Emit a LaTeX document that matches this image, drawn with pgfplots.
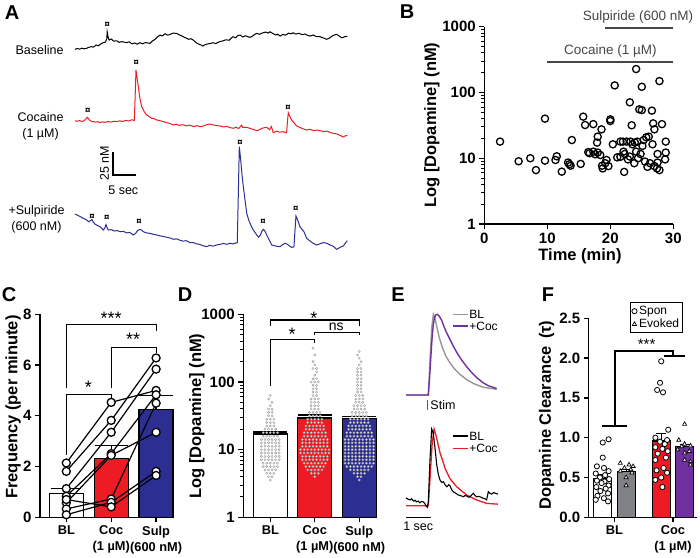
\documentclass[border=0pt]{standalone}
\usepackage{fontspec}
\setmainfont{Liberation Sans}
\usepackage{pgfplots}
\pgfplotsset{compat=1.18}
\definecolor{cred}{RGB}{237,28,36}
\definecolor{cblue}{RGB}{44,46,146}
\definecolor{cpurple}{RGB}{112,48,160}
\definecolor{cgray}{RGB}{128,130,133}
\definecolor{tgray}{RGB}{150,150,150}
\definecolor{dgray}{RGB}{70,70,70}
\newcommand{\fs}[1]{\fontsize{#1}{#1}\selectfont}
\pgfplotsset{
  gp/.style={scale only axis, clip=false, axis x line*=bottom, axis y line*=left,
    axis line style={line width=1.5pt,-}, tick align=outside,
    major tick length=5pt, minor tick length=3pt,
    tick style={black, line width=1.3pt}, minor tick style={line width=1pt},
    yticklabel style={font=\fontsize{15}{16}\selectfont\bfseries},
    xticklabel style={font=\fontsize{12.8}{16}\selectfont\bfseries, align=center},
    /pgf/number format/assume math mode=true},
  bar/.style={ybar, bar shift=0pt, draw=black, line width=1.4pt, forget plot},
  sem/.style={black, line width=1.4pt, forget plot},
  brk/.style={black, line width=1.2pt, forget plot},
  sw/.style={only marks, mark=*, mark size=1.1pt, mark options={draw=gray!80, fill=white, line width=0.4pt}, forget plot},
}
\begin{document}
\begin{tikzpicture}
\useasboundingbox (0,0) rectangle (700pt,557pt);
% ---------------- Panel A ----------------
\begin{axis}[at={(75pt,297pt)}, anchor=south west, scale only axis, width=272.3pt, height=240pt,
  xmin=0, xmax=59.2, ymin=0, ymax=260.9, axis lines=none, clip=false]
\addplot[black, line width=1pt] table[x=t, y expr=\thisrow{v}+230.4] {
t v
0 -1.4
0.5 -0.5
1.0 -1.2
1.5 -0.2
2.0 -0.8
2.5 -0.3
3.0 0.8
3.5 1.5
4.0 1.0
4.6 3.3
5.1 2.5
5.6 4.5
6.1 5.8
6.6 6.5
6.9 10
7.0 17.7
7.2 12
7.4 8.7
7.9 9.8
8.4 7.5
9.1 7.9
9.6 6.2
10.2 7.0
11.2 5.8
11.8 6.8
12.4 4.5
13.0 5.5
13.5 4.2
14.1 5.8
14.7 4.6
15.3 6.0
16.3 5.1
16.8 7.5
17.4 9.5
17.9 12.0
18.5 14.1
19.0 13.2
19.6 15.5
20.2 14.0
20.7 14.9
21.3 16.2
22.1 16.0
22.6 14.5
23.1 13.5
23.5 12.3
24.1 11.0
24.7 9.5
25.2 10.2
25.7 8.7
26.3 6.0
26.8 4.5
27.3 3.5
27.8 2.2
28.3 3.8
28.9 4.5
29.4 5.0
30.0 5.8
30.6 4.8
31.2 6.5
32.2 7.9
32.8 9.0
33.5 8.5
34.3 12.3
34.9 11.2
35.4 13.5
35.9 14.1
36.5 12.0
37.0 13.4
38.0 11.6
38.6 13.0
39.0 14.6
39.5 16.0
40.1 15.0
40.8 16.5
41.4 17.4
42.0 16.3
42.4 17.7
43.0 15.8
43.6 14.2
44.1 15.0
44.6 13.0
45.2 14.8
45.8 14.0
46.4 16.2
47.0 15.5
47.4 16.6
48.0 15.2
48.7 16.0
49.4 14.5
50.0 15.3
50.4 14.1
51.1 13.0
51.8 14.2
52.5 12.5
53.3 12.3
54.0 11.0
54.7 9.5
55.3 10.8
55.9 13.0
56.4 14.2
56.9 14.9
57.5 12.8
58.0 11.2
58.3 11.6
58.8 12.8
59.2 12.3
};
\addplot[cred, line width=1pt] table[x=t, y expr=\thisrow{v}+151.1] {
t v
0 0.3
0.5 -0.3
1.0 0.5
1.46 -0.7
2.0 0.5
2.4 2.5
2.67 4.0
3.0 2.2
3.26 0.3
3.8 -0.5
4.4 -1.2
5.0 -0.8
5.43 -1.8
6.0 -1.0
6.6 -1.5
7.2 -0.5
7.8 -1.2
8.5 -0.2
9.07 -0.7
9.7 0.2
10.4 -0.5
11.0 0.6
11.7 0.0
12.3 1.2
12.67 1.0
12.9 0.6
13.1 30
13.26 55.4
13.5 47
13.76 37.3
14.1 25
14.5 15.5
15.0 10.5
15.59 6.5
16.1 5.0
16.6 3.0
17.2 2.5
17.76 1.1
18.4 0.5
19.2 -0.7
19.8 -1.5
20.5 -2.5
21.37 -4.3
22.0 -3.5
22.7 -4.8
23.4 -4.0
24.28 -5.4
25.0 -4.5
25.8 -6.2
26.5 -5.0
27.17 -6.2
27.9 -5.5
28.6 -4.0
29.35 -3.3
30.0 -4.2
30.8 -5.0
31.52 -5.4
32.3 -6.5
33.0 -5.8
33.7 -7.2
34.41 -7.9
35.0 -6.8
35.6 -8.2
36.2 -4.5
36.5 -7.0
37.33 -6.9
38.0 -8.0
38.7 -9.0
39.5 -10.5
40.2 -9.2
40.9 -7.5
41.67 -6.9
42.3 -9.5
42.7 -6.0
43.1 -12.7
43.8 -11.0
44.5 -12.2
45.28 -11.6
45.8 -12.5
46.0 -12.7
46.2 0
46.37 9.0
46.7 5.0
47.1 1.1
47.6 -2.0
48.2 -5.4
48.9 -7.0
49.6 -8.5
50.37 -9.8
51.1 -9.0
51.9 -10.5
52.6 -9.8
53.26 -10.5
54.0 -11.5
54.8 -11.0
55.5 -12.5
56.15 -13.4
56.9 -14.0
57.6 -15.5
58.33 -17.4
58.8 -16.0
59.2 -15.6
};
\addplot[cblue, line width=1pt] table[x=t, y expr=\thisrow{v}+50] {
t v
0 0
0.6 -1.5
1.2 -3.0
1.8 -4.7
2.4 -6.0
3.0 -8.5
3.4 -7.0
3.7 -6.0
4.0 -9.0
4.35 -11.0
4.9 -12.5
5.5 -14.0
6.15 -17.4
6.5 -15.0
6.74 -11.5
7.0 -15.0
7.24 -17.4
7.9 -17.0
8.6 -18.5
9.2 -18.0
9.78 -19.2
10.5 -18.8
11.2 -20.5
11.9 -20.0
12.67 -22.8
13.2 -21.0
13.6 -18.0
14.13 -16.7
14.5 -17.5
14.85 -19.2
15.5 -20.5
16.2 -21.0
17.0 -22.0
17.76 -22.8
18.5 -23.8
19.3 -24.5
20.1 -25.5
20.8 -26.2
21.37 -27.5
22.1 -27.0
22.8 -28.5
23.5 -29.5
24.2 -29.0
25.0 -31.2
25.7 -31.0
26.4 -32.5
27.1 -33.0
27.8 -34.5
28.63 -35.5
29.3 -34.0
30.0 -35.0
30.8 -33.7
31.5 -33.0
32.3 -32.0
33.0 -33.0
33.7 -31.8
34.4 -32.5
35.0 -31.5
35.28 -31.2
35.5 20
35.72 73.2
36.0 60
36.3 43
36.59 29.7
36.9 18
37.33 0.8
37.8 -7
38.3 -13
38.76 -17.4
39.4 -22
39.9 -25.3
40.3 -23
40.6 -19
40.93 -16.7
41.3 -18.5
41.67 -22.8
42.2 -28
42.76 -33.7
43.4 -34.5
44.0 -35.2
44.57 -35.5
45.1 -33.5
45.65 -31.8
46.2 -33.0
46.7 -35.0
47.1 -36.2
47.6 -35.8
47.8 -20
48.04 -2.2
48.4 -6.5
48.9 -13.8
49.4 -17.0
49.8 -19.5
50.37 -26.4
51.0 -29.0
51.7 -31.5
52.54 -33.7
53.2 -32.5
54.0 -31.0
54.72 -31.8
55.4 -33.5
56.1 -35.0
56.89 -38.4
57.4 -37.0
57.9 -35.5
58.33 -34.8
58.8 -31.5
59.2 -29.0
};
\addplot[only marks, mark=text, text mark={\fs{9.5}\bfseries ¤}] coordinates {
(7.0,255.4) (2.8,162) (13.3,214.1) (46.3,165.2)
(3.7,46.7) (6.9,45.7) (13.9,41.3) (35.9,128) (40.9,41.3) (48,55.4)};
% scale bar
\addplot[black, line width=1.3pt] coordinates {(8.26,117.4) (8.26,92.4) (13.26,92.4)};
\end{axis}
\node[anchor=east, font=\fs{12.5}] at (67pt,507pt) {Baseline};
\node[anchor=east, align=center, font=\fontsize{12.5}{16}\selectfont] at (67pt,431pt) {Cocaine\\(1 µM)};
\node[anchor=east, align=center, font=\fontsize{12.5}{16}\selectfont] at (68pt,337.5pt) {+Sulpiride\\(600 nM)};
\node[rotate=90, font=\fs{12.5}] at (104.5pt,393.7pt) {25 nM};
\node[font=\fs{12.5}] at (123.3pt,367pt) {5 sec};
% ---------------- Panel B ----------------
\begin{axis}[gp, at={(484.3pt,333pt)}, anchor=south west, width=189pt, height=197.3pt,
  xmin=0, xmax=30, ymode=log, ymin=1, ymax=1000,
  xticklabel style={font=\fontsize{15}{16}\selectfont\bfseries},
  xtick={0,10,20,30}, ytick={1,10,100,1000}, yticklabels={1,10,100,1000}]
\addplot[dgray, line width=1.5pt] coordinates {(10,290) (30,290)};
\addplot[dgray, line width=1.5pt] coordinates {(19.2,960) (30,960)};
\node[font=\fs{13.5}, text=dgray, anchor=south] at (axis cs:20,300) {Cocaine (1 µM)};
\node[font=\fs{13.5}, text=dgray, anchor=south] at (axis cs:24.4,1000) {Sulpiride (600 nM)};
\addplot[only marks, mark=o, mark size=3.6pt, line width=1.3pt, black] coordinates {
(2.5,17.9) (5.45,9.0) (7.3,10) (8.2,6.6) (9.63,40) (9.63,9.2) (11.5,10.7) (11.3,9.4)
(12.3,6.25) (13.9,18.9) (13.3,8.6) (13.5,8.1) (13.7,7.7) (15.3,8.2) (15.7,42.9) (16.0,32)
(16.5,12.4) (16.7,11.9) (17.3,33) (17.3,12.6) (17.6,11.5) (17.9,17.3) (18.0,21.3) (18.0,12.2)
(18.4,11.2) (18.6,27.5) (18.7,7.7) (18.8,7.0) (19.2,8.4) (19.4,9.4) (19.7,7.6) (20.0,39)
(20.0,36.8) (20.4,16.3) (20.7,128) (21.1,10.3) (21.6,10.5) (21.6,17.9) (22.0,17.9) (22.1,12.6)
(22.2,6.2) (22.3,11.6) (22.6,17.9) (22.8,9.6) (23.1,70.8) (23.1,10.6) (23.2,17.9) (23.4,31.7)
(23.5,16.3) (23.8,8.4) (23.9,17.3) (24.1,227) (24.1,12.6) (24.3,17.9) (24.4,10) (24.6,55.4)
(24.8,11.6) (25.0,122) (25.0,54) (25.1,15.4) (25.3,18.9) (25.5,8.9) (25.7,20.8) (25.9,7.4)
(26.1,21.3) (26.3,8.4) (26.6,52.9) (26.7,16.3) (26.8,33.9) (27.0,27.5) (27.0,7.6) (27.4,7.0)
(27.5,8.6) (27.5,11.6) (27.8,149) (27.8,6.6) (28.2,33) (28.7,9.6) (28.8,12.2) (28.8,17.9)};
\end{axis}
\node[rotate=90, font=\fs{16.5}\bfseries] at (432pt,432pt) {Log [Dopamine] (nM)};
\node[font=\fs{16.5}\bfseries] at (580pt,301pt) {Time (min)};
% ---------------- Panel C ----------------
\begin{axis}[gp, at={(40pt,39.7pt)}, anchor=south west, width=133.3pt, height=203pt,
  xmin=-0.586, xmax=2.383, ymin=0, ymax=8, ytick={0,2,4,6,8},
  xtick={0,1,2}, xticklabels={BL,{Coc\\(1 µM)},{Sulp\\(600 nM)}}]
\addplot[bar, bar width=34pt, fill=white] coordinates {(0,0.93)};
\addplot[bar, bar width=34pt, fill=cred] coordinates {(1,2.31)};
\addplot[bar, bar width=34pt, fill=cblue] coordinates {(2,4.24)};
\addplot[sem] coordinates {(-0.33,1.13) (0.33,1.13)};
\addplot[sem] coordinates {(0.63,2.82) (1.37,2.82)};
\addplot[sem] coordinates {(1.63,4.8) (2.37,4.8)};
\addplot[sem] coordinates {(0,0.93) (0,1.13)};
\addplot[sem] coordinates {(1,2.31) (1,2.82)};
\addplot[sem] coordinates {(2,4.24) (2,4.8)};
\addplot[black, line width=1.2pt, mark=*, mark size=4pt, mark options={fill=white, line width=1.3pt}] coordinates {(0,2.14) (1,4.53) (2,5.0)};
\addplot[black, line width=1.2pt, mark=*, mark size=4pt, mark options={fill=white, line width=1.3pt}] coordinates {(0,1.81) (1,3.82) (2,6.28)};
\addplot[black, line width=1.2pt, mark=*, mark size=4pt, mark options={fill=white, line width=1.3pt}] coordinates {(0,1.13) (1,3.35) (2,5.84)};
\addplot[black, line width=1.2pt, mark=*, mark size=4pt, mark options={fill=white, line width=1.3pt}] coordinates {(0,0.83) (1,2.51) (2,4.83)};
\addplot[black, line width=1.2pt, mark=*, mark size=4pt, mark options={fill=white, line width=1.3pt}] coordinates {(0,0.57) (1,2.44) (2,3.35)};
\addplot[black, line width=1.2pt, mark=*, mark size=4pt, mark options={fill=white, line width=1.3pt}] coordinates {(0,0.33) (1,0.72) (2,4.5)};
\addplot[black, line width=1.2pt, mark=*, mark size=4pt, mark options={fill=white, line width=1.3pt}] coordinates {(0,0.10) (1,0.59) (2,1.81)};
\addplot[black, line width=1.2pt, mark=*, mark size=4pt, mark options={fill=white, line width=1.3pt}] coordinates {(0,0.70) (1,0.41) (2,1.65)};
\addplot[brk] coordinates {(0,5.09) (0,7.61) (2,7.61) (2,7.36)};
\addplot[brk] coordinates {(1,5.09) (1,6.69) (2,6.69) (2,6.47)};
\addplot[brk] coordinates {(0,2.47) (0,4.83) (1,4.83) (1,4.66)};
\node[font=\fs{18}] at (axis cs:1,7.85) {***};
\node[font=\fs{18}] at (axis cs:1.49,7.02) {**};
\node[font=\fs{18}] at (axis cs:0.49,5.11) {*};
\end{axis}
\node[rotate=90, font=\fs{16.5}\bfseries] at (13pt,150pt) {Frequency (per minute)};
% ---------------- Panel D ----------------
\begin{axis}[gp, at={(243.3pt,39.7pt)}, anchor=south west, width=133.2pt, height=203pt,
  xmin=-0.607, xmax=2.387, ymode=log, ymin=1, ymax=1000,
  ytick={1,10,100,1000}, yticklabels={1,10,100,1000},
  xtick={0,1,2}, xticklabels={BL,{Coc\\(1 µM)},{Sulp\\(600 nM)}}]
\addplot[bar, bar width=34pt, fill=white] coordinates {(0,17)};
\addplot[bar, bar width=34pt, fill=cred] coordinates {(1,29.3)};
\addplot[bar, bar width=34pt, fill=cblue] coordinates {(2,29)};
\addplot[sw] coordinates {
(0,3.55)
(-.04,3.98)(.04,3.98)
(-.08,4.47)(0,4.47)(.08,4.47)
(-.12,5.01)(-.04,5.01)(.04,5.01)(.12,5.01)
(-.16,5.62)(-.08,5.62)(0,5.62)(.08,5.62)(.16,5.62)
(-.16,6.31)(-.08,6.31)(0,6.31)(.08,6.31)(.16,6.31)
(-.2,7.08)(-.12,7.08)(-.04,7.08)(.04,7.08)(.12,7.08)(.2,7.08)
(-.2,7.94)(-.12,7.94)(-.04,7.94)(.04,7.94)(.12,7.94)(.2,7.94)
(-.2,8.91)(-.12,8.91)(-.04,8.91)(.04,8.91)(.12,8.91)(.2,8.91)
(-.2,10)(-.12,10)(-.04,10)(.04,10)(.12,10)(.2,10)
(-.2,11.2)(-.12,11.2)(-.04,11.2)(.04,11.2)(.12,11.2)(.2,11.2)
(-.2,12.6)(-.12,12.6)(-.04,12.6)(.04,12.6)(.12,12.6)(.2,12.6)
(-.2,14.1)(-.12,14.1)(-.04,14.1)(.04,14.1)(.12,14.1)(.2,14.1)
(-.16,15.8)(-.08,15.8)(0,15.8)(.08,15.8)(.16,15.8)
(-.16,17.8)(-.08,17.8)(0,17.8)(.08,17.8)(.16,17.8)
(-.12,20)(-.04,20)(.04,20)(.12,20)
(-.08,22.4)(0,22.4)(.08,22.4)
(-.08,25.1)(0,25.1)(.08,25.1)
(-.08,28.2)(0,28.2)(.08,28.2)
(-.04,31.6)(.04,31.6)
(-.04,35.5)(.04,35.5)
(-.04,39.8)(.04,39.8)
(0,44.7) (.04,50.1) (-.04,56.2) (0,63.1)
};
\addplot[sw] coordinates {
(1,3.98)
(.92,4.47)(1,4.47)(1.08,4.47)
(.84,5.01)(.92,5.01)(1,5.01)(1.08,5.01)(1.16,5.01)
(.8,5.62)(.88,5.62)(.96,5.62)(1.04,5.62)(1.12,5.62)(1.2,5.62)
(.76,6.31)(.84,6.31)(.92,6.31)(1,6.31)(1.08,6.31)(1.16,6.31)(1.24,6.31)
(.72,7.08)(.8,7.08)(.88,7.08)(.96,7.08)(1.04,7.08)(1.12,7.08)(1.2,7.08)(1.28,7.08)
(.72,7.94)(.8,7.94)(.88,7.94)(.96,7.94)(1.04,7.94)(1.12,7.94)(1.2,7.94)(1.28,7.94)
(.68,8.91)(.76,8.91)(.84,8.91)(.92,8.91)(1,8.91)(1.08,8.91)(1.16,8.91)(1.24,8.91)(1.32,8.91)
(.68,10)(.76,10)(.84,10)(.92,10)(1,10)(1.08,10)(1.16,10)(1.24,10)(1.32,10)
(.72,11.2)(.8,11.2)(.88,11.2)(.96,11.2)(1.04,11.2)(1.12,11.2)(1.2,11.2)(1.28,11.2)
(.72,12.6)(.8,12.6)(.88,12.6)(.96,12.6)(1.04,12.6)(1.12,12.6)(1.2,12.6)(1.28,12.6)
(.72,14.1)(.8,14.1)(.88,14.1)(.96,14.1)(1.04,14.1)(1.12,14.1)(1.2,14.1)(1.28,14.1)
(.76,15.8)(.84,15.8)(.92,15.8)(1,15.8)(1.08,15.8)(1.16,15.8)(1.24,15.8)
(.76,17.8)(.84,17.8)(.92,17.8)(1,17.8)(1.08,17.8)(1.16,17.8)(1.24,17.8)
(.8,20)(.88,20)(.96,20)(1.04,20)(1.12,20)(1.2,20)
(.8,22.4)(.88,22.4)(.96,22.4)(1.04,22.4)(1.12,22.4)(1.2,22.4)
(.84,25.1)(.92,25.1)(1,25.1)(1.08,25.1)(1.16,25.1)
(.84,28.2)(.92,28.2)(1,28.2)(1.08,28.2)(1.16,28.2)
(.88,31.6)(.96,31.6)(1.04,31.6)(1.12,31.6)
(.88,35.5)(.96,35.5)(1.04,35.5)(1.12,35.5)
(.92,39.8)(1,39.8)(1.08,39.8)
(.92,44.7)(1,44.7)(1.08,44.7)
(.92,50.1)(1,50.1)(1.08,50.1)
(.92,56.2)(1,56.2)(1.08,56.2)
(.96,63.1)(1.04,63.1)
(.96,70.8)(1.04,70.8)
(.96,79.4)(1.04,79.4)
(.96,89.1)(1.04,89.1)
(.92,100)(1,100)(1.08,100)
(.96,112)(1.04,112)
(1,126) (1.04,141)
(.96,158)(1.04,158)
(1,178) (.96,200) (1,251) (.96,316)
};
\addplot[sw] coordinates {
(2,3.55)
(1.96,3.98)(2.04,3.98)
(1.88,4.47)(1.96,4.47)(2.04,4.47)(2.12,4.47)
(1.8,5.01)(1.88,5.01)(1.96,5.01)(2.04,5.01)(2.12,5.01)(2.2,5.01)
(1.72,5.62)(1.8,5.62)(1.88,5.62)(1.96,5.62)(2.04,5.62)(2.12,5.62)(2.2,5.62)(2.28,5.62)
(1.68,6.31)(1.76,6.31)(1.84,6.31)(1.92,6.31)(2,6.31)(2.08,6.31)(2.16,6.31)(2.24,6.31)(2.32,6.31)
(1.68,7.08)(1.76,7.08)(1.84,7.08)(1.92,7.08)(2,7.08)(2.08,7.08)(2.16,7.08)(2.24,7.08)(2.32,7.08)
(1.68,7.94)(1.76,7.94)(1.84,7.94)(1.92,7.94)(2,7.94)(2.08,7.94)(2.16,7.94)(2.24,7.94)(2.32,7.94)
(1.68,8.91)(1.76,8.91)(1.84,8.91)(1.92,8.91)(2,8.91)(2.08,8.91)(2.16,8.91)(2.24,8.91)(2.32,8.91)
(1.68,10)(1.76,10)(1.84,10)(1.92,10)(2,10)(2.08,10)(2.16,10)(2.24,10)(2.32,10)
(1.68,11.2)(1.76,11.2)(1.84,11.2)(1.92,11.2)(2,11.2)(2.08,11.2)(2.16,11.2)(2.24,11.2)(2.32,11.2)
(1.68,12.6)(1.76,12.6)(1.84,12.6)(1.92,12.6)(2,12.6)(2.08,12.6)(2.16,12.6)(2.24,12.6)(2.32,12.6)
(1.68,14.1)(1.76,14.1)(1.84,14.1)(1.92,14.1)(2,14.1)(2.08,14.1)(2.16,14.1)(2.24,14.1)(2.32,14.1)
(1.72,15.8)(1.8,15.8)(1.88,15.8)(1.96,15.8)(2.04,15.8)(2.12,15.8)(2.2,15.8)(2.28,15.8)
(1.72,17.8)(1.8,17.8)(1.88,17.8)(1.96,17.8)(2.04,17.8)(2.12,17.8)(2.2,17.8)(2.28,17.8)
(1.76,20)(1.84,20)(1.92,20)(2,20)(2.08,20)(2.16,20)(2.24,20)
(1.76,22.4)(1.84,22.4)(1.92,22.4)(2,22.4)(2.08,22.4)(2.16,22.4)(2.24,22.4)
(1.8,25.1)(1.88,25.1)(1.96,25.1)(2.04,25.1)(2.12,25.1)(2.2,25.1)
(1.8,28.2)(1.88,28.2)(1.96,28.2)(2.04,28.2)(2.12,28.2)(2.2,28.2)
(1.84,31.6)(1.92,31.6)(2,31.6)(2.08,31.6)(2.16,31.6)
(1.84,35.5)(1.92,35.5)(2,35.5)(2.08,35.5)(2.16,35.5)
(1.88,39.8)(1.96,39.8)(2.04,39.8)(2.12,39.8)
(1.88,44.7)(1.96,44.7)(2.04,44.7)(2.12,44.7)
(1.92,50.1)(2,50.1)(2.08,50.1)
(1.92,56.2)(2,56.2)(2.08,56.2)
(1.92,63.1)(2,63.1)(2.08,63.1)
(1.96,70.8)(2.04,70.8)
(1.96,79.4)(2.04,79.4)
(1.96,89.1)(2.04,89.1)
(1.96,100)(2.04,100)
(1.96,112)(2.04,112)
(1.96,126)(2.04,126)
(1.96,141)(2.04,141)
(1.96,158)(2.04,158)
(2,178) (2.04,200) (2,224) (1.96,251) (2,282)
};
\addplot[sem] coordinates {(-0.38,17) (0.38,17)};
\addplot[sem] coordinates {(-0.38,18.3) (0.38,18.3)};
\addplot[sem] coordinates {(0.62,29.3) (1.38,29.3)};
\addplot[sem] coordinates {(0.62,32.4) (1.38,32.4)};
\addplot[sem] coordinates {(1.62,29) (2.38,29)};
\addplot[sem] coordinates {(1.62,30.6) (2.38,30.6)};
\addplot[brk] coordinates {(0,670) (0,821) (2,821) (2,670)};
\addplot[brk] coordinates {(0,87) (0,426) (1,426) (1,380)};
\addplot[brk] coordinates {(1,488) (1,540) (2,540) (2,488)};
\node[font=\fs{18}] at (axis cs:0.98,880) {*};
\node[font=\fs{18}] at (axis cs:0.49,505) {*};
\node[font=\fs{14}] at (axis cs:1.48,650) {ns};
\end{axis}
\node[rotate=90, font=\fs{16.5}\bfseries] at (197pt,141pt) {Log [Dopamine] (nM)};
% ---------------- Panel E ----------------
\begin{axis}[at={(406pt,162pt)}, anchor=south west, scale only axis, width=91.9pt, height=80.7pt,
  xmin=-0.93, xmax=2.9, ymin=0, ymax=1, axis lines=none, clip=false]
\addplot[tgray, line width=1.4pt] coordinates {(-0.93,0)(0,0)(0.05,0.3)(0.1,0.6)(0.15,0.85)(0.21,1.0)(0.28,0.95)(0.35,0.85)(0.45,0.72)(0.55,0.62)(0.625,0.56)(0.75,0.47)(0.9,0.4)(1.1,0.32)(1.3,0.26)(1.6,0.19)(1.9,0.14)(2.29,0.096)(2.85,0.07)};
\addplot[cpurple, line width=1.4pt] coordinates {(-0.93,0)(0,0)(0.05,0.2)(0.1,0.45)(0.15,0.68)(0.2,0.85)(0.25,0.95)(0.3,0.99)(0.375,1.0)(0.45,0.98)(0.55,0.93)(0.65,0.85)(0.75,0.78)(0.9,0.69)(1.05,0.6)(1.2,0.52)(1.4,0.43)(1.6,0.35)(1.8,0.28)(2.0,0.22)(2.29,0.15)(2.5,0.115)(2.85,0.08)};
\addplot[tgray, line width=1.3pt] coordinates {(1.04,1.0) (1.67,1.0)};
\addplot[cpurple, line width=1.3pt] coordinates {(1.04,0.855) (1.67,0.855)};
\addplot[cred, line width=1.5pt] coordinates {(-0.03,-0.062) (-0.03,-0.186)};
\node[anchor=west, font=\fs{12}, inner sep=0.3pt] at (axis cs:1.69,1.0) {BL};
\node[anchor=west, font=\fs{12}, inner sep=0.3pt] at (axis cs:1.69,0.855) {+Coc};
\node[anchor=west, font=\fs{12.5}, inner sep=0.5pt] at (axis cs:0.06,-0.124) {Stim};
\end{axis}
\begin{axis}[at={(406pt,51.3pt)}, anchor=south west, scale only axis, width=91.9pt, height=77.4pt,
  xmin=-0.93, xmax=2.9, ymin=0, ymax=1, axis lines=none, clip=false]
\addplot[cred, line width=1.3pt] coordinates {(-0.93,0)(0,0)(0.08,0.4)(0.16,0.8)(0.24,0.99)(0.3,0.93)(0.35,0.87)(0.49,0.68)(0.6,0.58)(0.7,0.48)(0.9,0.35)(1.18,0.245)(1.6,0.138)(2.01,0.074)(2.43,0.03)(2.9,0.02)};
\addplot[black, line width=1.1pt] coordinates {(-0.93,0.1)(-0.85,0.085)(-0.76,0.075)(-0.7,0.09)(-0.62,0.06)(-0.55,0.07)(-0.49,0.05)(-0.42,0.06)(-0.35,0.039)(-0.28,0.055)(-0.21,0.05)(-0.15,0.03)(-0.1,0.0)(-0.04,-0.02)(0,0.05)(0.07,0.6)(0.14,0.99)(0.2,0.95)(0.28,0.74)(0.35,0.53)(0.42,0.4)(0.49,0.33)(0.56,0.3)(0.63,0.31)(0.7,0.27)(0.77,0.245)(0.85,0.27)(0.9,0.26)(0.97,0.21)(1.04,0.18)(1.15,0.16)(1.25,0.138)(1.35,0.13)(1.46,0.116)(1.53,0.13)(1.6,0.125)(1.67,0.11)(1.74,0.116)(1.81,0.14)(1.88,0.16)(1.95,0.13)(2.01,0.116)(2.1,0.12)(2.2,0.11)(2.29,0.096)(2.36,0.09)(2.43,0.075)(2.5,0.18)(2.57,0.16)(2.64,0.15)(2.72,0.17)(2.8,0.16)(2.9,0.15)};
\addplot[black, line width=1.3pt] coordinates {(1.04,0.9) (1.67,0.9)};
\addplot[cred, line width=1.3pt] coordinates {(1.04,0.74) (1.67,0.74)};
\addplot[black, line width=1.3pt] coordinates {(-0.93,-0.15) (0.1,-0.15)};
\node[anchor=west, font=\fs{12}, inner sep=0.3pt] at (axis cs:1.69,0.9) {BL};
\node[anchor=west, font=\fs{12}, inner sep=0.3pt] at (axis cs:1.69,0.74) {+Coc};
\node[font=\fs{12.5}] at (axis cs:-0.42,-0.27) {1 sec};
\end{axis}
% ---------------- Panel F ----------------
\begin{axis}[gp, at={(588.7pt,39.7pt)}, anchor=south west, width=108.2pt, height=199pt,
  xmin=-0.44, xmax=1.41, ymin=0, ymax=2.5, ytick={0,0.5,1,1.5,2,2.5},
  yticklabel style={/pgf/number format/.cd, fixed, fixed zerofill, precision=1},
  xtick={0,1}, xticklabels={BL,{Coc\\(1 µM)}},
  legend style={at={(0.382,1.08)}, anchor=north west, draw=black, line width=0.7pt,
    font=\fs{12}, inner sep=1.5pt, row sep=-1pt, legend cell align=left},
  legend image code/.code={\draw[#1, mark repeat=1] plot coordinates {(0.1cm,0cm)};}]
\addplot[bar, bar width=18pt, fill=white, line width=1.2pt] coordinates {(-0.2,0.49)};
\addplot[bar, bar width=18pt, fill=cgray, line width=1.2pt] coordinates {(0.2,0.573)};
\addplot[bar, bar width=18pt, fill=cred, line width=1.2pt] coordinates {(0.8,0.958)};
\addplot[bar, bar width=18pt, fill=cpurple, line width=1.2pt] coordinates {(1.2,0.887)};
\addplot[sem, line width=1.1pt] coordinates {(-0.2,0.49) (-0.2,0.535)};
\addplot[sem, line width=1.1pt] coordinates {(-0.285,0.535) (-0.115,0.535)};
\addplot[sem, line width=1.1pt] coordinates {(0.2,0.573) (0.2,0.6)};
\addplot[sem, line width=1.1pt] coordinates {(0.115,0.6) (0.285,0.6)};
\addplot[sem, line width=1.1pt] coordinates {(0.8,0.958) (0.8,1.055)};
\addplot[sem, line width=1.1pt] coordinates {(0.715,1.055) (0.885,1.055)};
\addplot[sem, line width=1.1pt] coordinates {(1.2,0.887) (1.2,0.92)};
\addplot[sem, line width=1.1pt] coordinates {(1.115,0.92) (1.285,0.92)};
\addplot[only marks, mark=*, mark size=2.6pt, mark options={fill=white, draw=black, line width=0.8pt}] coordinates {
(-0.1,0.98)(-0.2,0.94)(-0.2,0.75)(-0.3,0.64)(-0.18,0.62)(-0.1,0.58)(-0.32,0.55)(-0.16,0.53)
(-0.25,0.50)(-0.09,0.48)(-0.3,0.46)(-0.17,0.45)(-0.22,0.43)(-0.1,0.40)(-0.31,0.38)(-0.15,0.36)
(-0.24,0.33)(-0.11,0.30)(-0.29,0.27)(-0.18,0.24)(-0.32,0.22)(-0.11,0.20)
(0.8,1.96)(0.78,1.69)(0.73,1.60)(0.83,1.57)(0.92,1.10)(0.7,1.00)(0.9,0.97)(0.78,0.95)
(0.86,0.92)(0.7,0.88)(0.82,0.86)(0.91,0.83)(0.74,0.80)(0.88,0.75)(0.7,0.72)(0.84,0.62)
(0.72,0.59)(0.9,0.56)(0.8,0.50)(0.7,0.47)(0.82,0.38)};
\addlegendentry{Spon}
\addplot[only marks, mark=triangle*, mark size=2.4pt, mark options={fill=white, draw=black, line width=0.7pt}] coordinates {
(0.1,0.68)(0.25,0.66)(0.32,0.64)(0.17,0.62)(0.28,0.60)(0.1,0.58)(0.3,0.56)(0.2,0.50)(0.2,0.40)
(1.2,1.17)(1.1,0.97)(1.2,0.92)(1.3,0.90)(1.15,0.89)(1.08,0.85)(1.28,0.83)(1.2,0.81)
(1.2,0.72)(1.3,0.70)(1.3,0.66)};
\addlegendentry{Evoked}
\addplot[brk] coordinates {(-0.205,1.147) (0.212,1.147)};
\addplot[brk] coordinates {(0.01,1.147) (0.01,2.089) (1.0,2.089) (1.0,2.026)};
\addplot[brk] coordinates {(0.84,2.026) (1.21,2.026)};
\node[font=\fs{15}] at (axis cs:0.55,2.17) {***};
\end{axis}
\node[rotate=90, font=\fs{16.5}\bfseries] at (546.7pt,142pt) {Dopamine Clearance\, (τ)};
% ---------------- Panel letters ----------------
\node[font=\fs{20}\bfseries] at (12pt,544pt) {A};
\node[font=\fs{20}\bfseries] at (407pt,545pt) {B};
\node[font=\fs{20}\bfseries] at (9pt,262pt) {C};
\node[font=\fs{20}\bfseries] at (185pt,262pt) {D};
\node[font=\fs{20}\bfseries] at (398pt,262pt) {E};
\node[font=\fs{20}\bfseries] at (548pt,262pt) {F};
\end{tikzpicture}
\end{document}
